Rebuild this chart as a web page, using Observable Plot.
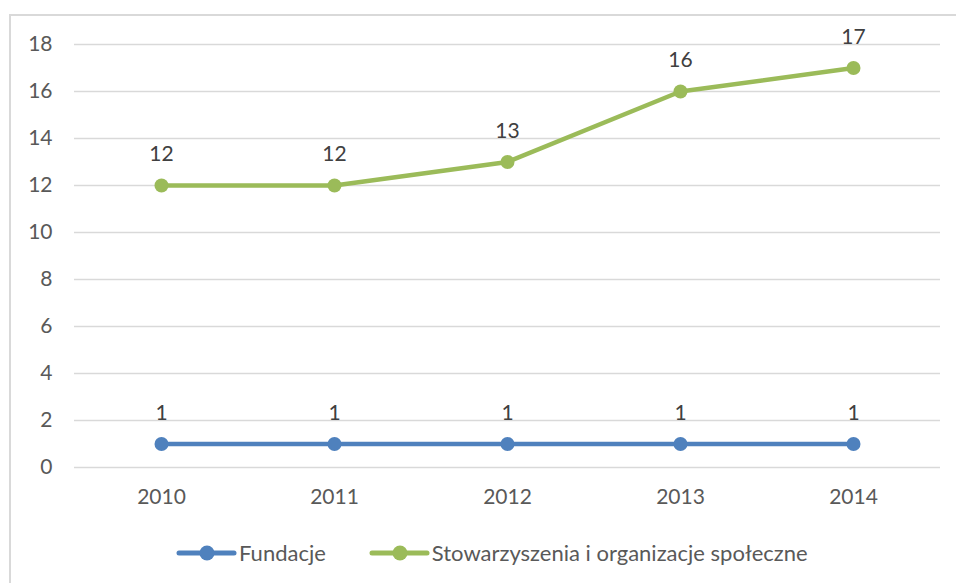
<!DOCTYPE html>
<html><head><meta charset="utf-8">
<script src="https://cdn.jsdelivr.net/npm/d3@7"></script>
<script src="https://cdn.jsdelivr.net/npm/@observablehq/plot@0.6"></script>
<style>
html,body{margin:0;padding:0;background:#fff;overflow:hidden;}
body{width:956px;height:583px;position:relative;font-family:Lato,"Open Sans",sans-serif;}
#frame{position:absolute;left:9px;top:14px;width:960px;height:600px;border:2px solid #d9d9d9;box-sizing:border-box;}
#chart{position:absolute;left:0;top:0;}
#legend{position:absolute;left:176px;top:539px;display:flex;gap:43px;font-size:22px;line-height:28px;color:#595959;}
.item{display:flex;align-items:center;gap:2px;}
</style></head>
<body>
<div id="frame"></div>
<div id="chart"></div>
<div id="legend"></div>
<script>
const years = ["2010","2011","2012","2013","2014"];
const fundacje = [1,1,1,1,1];
const stowarzyszenia = [12,12,13,16,17];
const seriesNames = ["Fundacje","Stowarzyszenia i organizacje społeczne"];
const seriesColors = ["#4f81bd","#9bbb59"];
const yTicks = [0,2,4,6,8,10,12,14,16,18];

const data = [];
years.forEach((y,i)=>{
  data.push({year:y, value:fundacje[i], series:seriesNames[0]});
  data.push({year:y, value:stowarzyszenia[i], series:seriesNames[1]});
});

const chart = Plot.plot({
  width:956, height:520,
  marginLeft:74, marginRight:16, marginTop:44, marginBottom:53,
  style:{fontFamily:"Lato, 'Open Sans', sans-serif", fontSize:"21px", color:"#595959", background:"transparent"},
  x:{type:"point", domain:years, padding:0.5, label:null},
  y:{domain:[0,18], label:null},
  color:{domain:seriesNames, range:seriesColors},
  marks:[
    Plot.gridY(yTicks,{stroke:"#d9d9d9", strokeOpacity:1, strokeWidth:1.5}),
    Plot.axisX({tickSize:0, tickPadding:22, fontSize:21, fill:"#595959"}),
    Plot.axisY(yTicks,{tickSize:0, tickPadding:22, fontSize:21, fill:"#595959"}),
    Plot.line(data,{x:"year", y:"value", z:"series", stroke:"series", strokeWidth:4.5}),
    Plot.dot(data,{x:"year", y:"value", fill:"series", r:7}),
    Plot.text(data,{x:"year", y:"value", text:d=>String(d.value), dy:-31, fontSize:21, fill:"#404040"})
  ]
});
document.getElementById("chart").appendChild(chart);

const legend = d3.select("#legend");
seriesNames.forEach((n,i)=>{
  const it = legend.append("div").attr("class","item");
  const s = it.append("svg").attr("width",61).attr("height",18);
  s.append("line").attr("x1",3).attr("x2",58).attr("y1",9).attr("y2",9).attr("stroke",seriesColors[i]).attr("stroke-width",5).attr("stroke-linecap","round");
  s.append("circle").attr("cx",31).attr("cy",9).attr("r",7.5).attr("fill",seriesColors[i]);
  it.append("span").text(n);
});
</script>
</body></html>
